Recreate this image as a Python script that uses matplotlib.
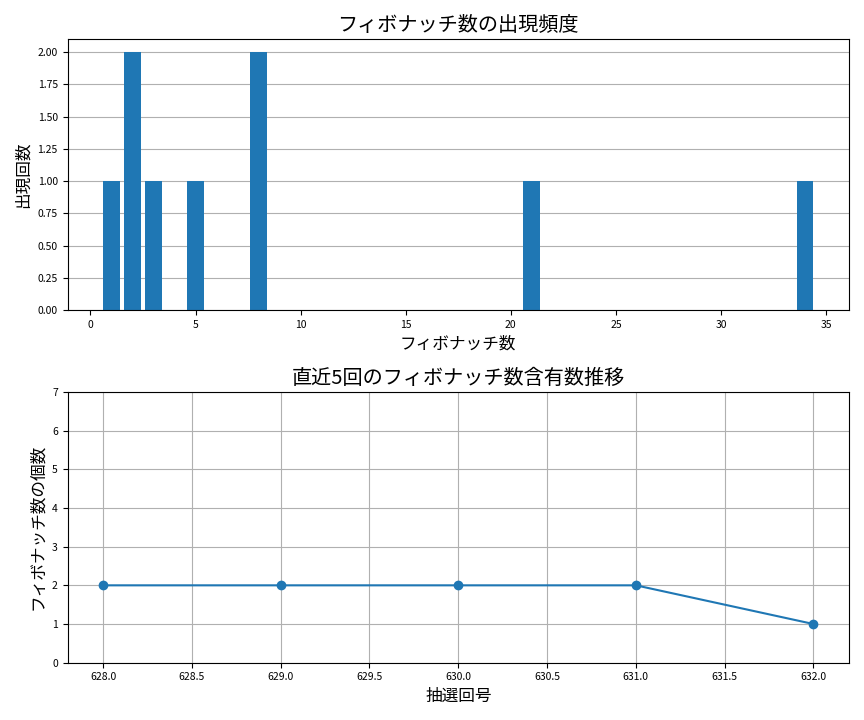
import matplotlib
matplotlib.use('Agg')
import matplotlib.pyplot as plt

plt.rcParams['font.family'] = ['Noto Sans CJK JP', 'DejaVu Sans']

# フィボナッチ数の出現頻度
fib_nums = [1, 2, 3, 5, 8, 21, 34]
fib_counts = [1, 2, 1, 1, 2, 1, 1]

# 直近5回の含有数
draw_nos = [628, 629, 630, 631, 632]
fib_in_draw = [2, 2, 2, 2, 1]

fig, (ax1, ax2) = plt.subplots(2, 1, figsize=(8.64, 7.2), dpi=100)

ax1.bar(fib_nums, fib_counts, color='#1f77b4')
ax1.set_title('フィボナッチ数の出現頻度', fontsize=14.5)
ax1.set_xlabel('フィボナッチ数', fontsize=12)
ax1.set_ylabel('出現回数', fontsize=12)
ax1.yaxis.set_major_formatter(matplotlib.ticker.FormatStrFormatter('%.2f'))
ax1.set_yticks([0, 0.25, 0.5, 0.75, 1.0, 1.25, 1.5, 1.75, 2.0])
ax1.grid(axis='y')
ax1.set_axisbelow(True)
ax1.tick_params(labelsize=7.5)

ax2.plot(draw_nos, fib_in_draw, marker='o', color='#1f77b4')
ax2.set_title('直近5回のフィボナッチ数含有数推移', fontsize=14.5)
ax2.set_xlabel('抽選回号', fontsize=12)
ax2.set_ylabel('フィボナッチ数の個数', fontsize=12)
ax2.set_ylim(0, 7)
ax2.xaxis.set_major_formatter(matplotlib.ticker.FormatStrFormatter('%.1f'))
ax2.grid(True)
ax2.tick_params(labelsize=7.5)

plt.tight_layout()
plt.savefig('out.png')
